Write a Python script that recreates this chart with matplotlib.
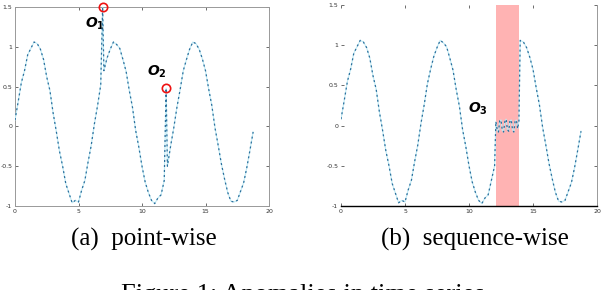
import numpy as np
from matplotlib import pyplot as plt

plt.rcParams['mathtext.fontset'] = 'custom'
plt.rcParams['mathtext.it'] = 'DejaVu Sans:italic:bold'
plt.rcParams['mathtext.rm'] = 'DejaVu Sans:bold'

# normal series, sampled every 0.25 from 0 to 18.75
x = np.arange(76) * 0.25
y = np.array([0.08, 0.31, 0.55, 0.70, 0.90, 0.98, 1.06, 1.04, 0.97, 0.84,
              0.62, 0.45, 0.17, -0.06, -0.31, -0.50, -0.72, -0.84, -0.96, -0.93,
              -0.95, -0.80, -0.68, -0.45, -0.24, 0.03, 0.26, 0.52, 0.70, 0.86,
              0.97, 1.06, 1.03, 0.98, 0.84, 0.69, 0.45, 0.24, -0.05, -0.26,
              -0.50, -0.70, -0.83, -0.93, -0.97, -0.90, -0.86, -0.68, -0.50, -0.25,
              -0.02, 0.24, 0.46, 0.70, 0.84, 0.97, 1.06, 1.04, 0.97, 0.85,
              0.70, 0.47, 0.26, -0.02, -0.24, -0.47, -0.66, -0.83, -0.94, -0.95,
              -0.93, -0.82, -0.71, -0.52, -0.30, -0.07])

# point-wise anomalies
pt_x = [6.9, 11.9]
pt_y = [1.5, 0.48]

# sequence-wise anomaly
seq_start, seq_end = 12.1, 13.9
seq_y = [0.05, -0.05, -0.08, 0.06, 0.07, -0.06, -0.08, 0.05, 0.08, -0.05,
         -0.07, 0.06, 0.07, -0.05, -0.08, 0.05, 0.07, -0.04, 0.06]

ticks_x = [0, 5, 10, 15, 20]
ticks_y = [-1, -0.5, 0, 0.5, 1, 1.5]
tick_lbl_y = ['-1', '-0.5', '0', '0.5', '1', '1.5']

# build the two series
xa = np.concatenate([x, pt_x])
ya = np.concatenate([y, pt_y])
order = np.argsort(xa)
xa, ya = xa[order], ya[order]

seq_x = np.linspace(seq_start, seq_end, len(seq_y))
keep = (x < seq_start) | (x > seq_end)
xb = np.concatenate([x[keep], seq_x])
yb = np.concatenate([y[keep], seq_y])
order = np.argsort(xb)
xb, yb = xb[order], yb[order]

fig = plt.figure(figsize=(6.02, 2.90), dpi=100)
ax1 = fig.add_axes([15/602, 1-206/290, 254/602, 199/290])
ax2 = fig.add_axes([341/602, 1-206/290, 256/602, 201/290])


def draw_series(ax, xs, ys):
    ax.plot(xs, ys, '-', c='#bfeaf5', lw=0.8, zorder=3)
    ax.plot(xs, ys, '--', c='#2b6f9c', lw=0.9, dashes=(1.6, 2.4), zorder=4)


def style(ax):
    ax.set_xlim(0, 20)
    ax.set_ylim(-1, 1.5)
    ax.set_xticks(ticks_x)
    ax.set_yticks(ticks_y)
    ax.set_yticklabels(tick_lbl_y)
    ax.tick_params(direction='in', length=2, width=0.6, labelsize=4.5,
                   colors='#555555', labelcolor='#333333', pad=2,
                   top=True, right=True)


draw_series(ax1, xa, ya)
ax1.plot(pt_x, pt_y, 'o', mfc='none', mec='#ee1111', mew=1.2, ms=6, zorder=5,
         clip_on=False)
ax1.text(6.3, 1.29, r'$O_1$', fontsize=10, ha='center', va='center')
ax1.text(11.2, 0.68, r'$O_2$', fontsize=10, ha='center', va='center')
style(ax1)
for s in ax1.spines.values():
    s.set_color('#999999')
    s.set_linewidth(0.7)

ax2.axvspan(seq_start, seq_end, color='#ffb3b3', lw=0, zorder=1)
draw_series(ax2, xb, yb)
ax2.text(10.7, 0.21, r'$O_3$', fontsize=10, ha='center', va='center')
style(ax2)
ax2.spines['top'].set_visible(False)
ax2.spines['left'].set_visible(False)
ax2.spines['right'].set_color('#999999')
ax2.spines['right'].set_linewidth(0.7)
ax2.spines['bottom'].set_color('black')
ax2.spines['bottom'].set_linewidth(1.0)

serif = ['Liberation Serif', 'DejaVu Serif']
fig.text(144/602, 1-239/290, '(a)  point-wise', family=serif, fontsize=18,
         ha='center', va='center')
fig.text(475/602, 1-239/290, '(b)  sequence-wise', family=serif, fontsize=18,
         ha='center', va='center')
# figure caption, only its top edge falls inside the picture
fig.text(303/602, 1-300.5/290, 'Figure 1: Anomalies in time series',
         family=serif, fontsize=19, ha='center', va='baseline')

plt.savefig('out.png', dpi=100)
